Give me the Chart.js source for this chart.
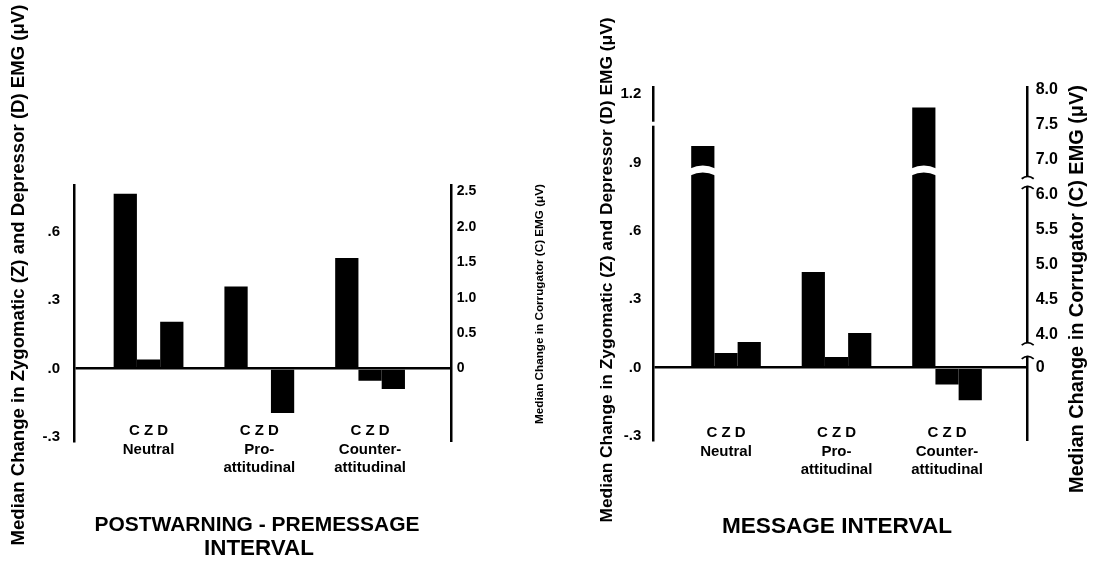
<!DOCTYPE html>
<html>
<head>
<meta charset="utf-8">
<script src="https://cdn.jsdelivr.net/npm/chart.js@4.4.0/dist/chart.umd.min.js"></script>
<style>
  html, body { margin: 0; padding: 0; background: #fff; }
  #wrap { position: relative; width: 1096px; height: 563px; overflow: hidden; }
  canvas { position: absolute; top: 0; }
</style>
</head>
<body>
<div id="wrap">
  <canvas id="pre" width="555" height="563" style="left:0"></canvas>
  <canvas id="msg" width="541" height="563" style="left:555px"></canvas>
</div>
<script>
const FONT = "'Liberation Sans', Arial, sans-serif";

// labels under each group of bars
const barLetters = 'C Z D';
const groupNames = [['Neutral'], ['Pro-', 'attitudinal'], ['Counter-', 'attitudinal']];

// postwarning - premessage interval (C on right axis, Z and D on left axis)
const preC = [2.47, 1.16, 1.56];
const preZ = [0.04, 0.0, -0.054];
const preD = [0.205, -0.195, -0.09];

// message interval
const msgC = [7.2, 4.9, 7.75];
const msgZ = [0.065, 0.047, -0.074];
const msgD = [0.113, 0.152, -0.143];

// tick values
const preZDTicks = [-0.3, 0, 0.3, 0.6];
const preCTicks = [0, 0.5, 1.0, 1.5, 2.0, 2.5];
const msgZDTicks = [-0.3, 0, 0.3, 0.6, 0.9, 1.2];
const msgCTicks = [0, 4.0, 4.5, 5.0, 5.5, 6.0, 7.0, 7.5, 8.0];

// broken corrugator axis of the message panel: [real value, stretched value]
const msgCBreaks = [[0, 0], [4.0, 0.467], [6.0, 2.467], [7.0, 2.967], [8.0, 3.967]];

// linear scale with the two axis breaks squeezed out
class BrokenScale extends Chart.LinearScale {
  stretch(v) {
    const b = msgCBreaks;
    if (v <= b[0][0]) return v;
    for (let i = 1; i < b.length; i++) {
      if (v <= b[i][0]) {
        const [r0, s0] = b[i - 1], [r1, s1] = b[i];
        return s0 + (v - r0) * (s1 - s0) / (r1 - r0);
      }
    }
    const [rl, sl] = b[b.length - 1];
    return sl + (v - rl);
  }
  getPixelForValue(value) {
    if (value === null || value === undefined || isNaN(value)) return NaN;
    return super.getPixelForValue(this.stretch(value));
  }
}
BrokenScale.id = 'broken';
BrokenScale.defaults = Chart.LinearScale.defaults;
Chart.register(BrokenScale);

function zdLabel(v) {
  if (v === 0) return '.0';
  if (Math.abs(v) >= 1) return v.toFixed(1);
  return (v < 0 ? '-' : '') + '.' + Math.round(Math.abs(v) * 10);
}

function cLabel(v) {
  return v === 0 ? '0' : v.toFixed(1);
}

// free text: axis titles and panel captions, sized to a given length
function textPlugin(items) {
  return {
    id: 'figText',
    afterDraw(chart) {
      const ctx = chart.ctx;
      ctx.save();
      ctx.fillStyle = '#000';
      ctx.textAlign = 'center';
      ctx.textBaseline = 'middle';
      items.forEach(t => {
        ctx.font = 'bold 100px ' + FONT;
        const size = 100 * t.len / ctx.measureText(t.text).width;
        ctx.font = 'bold ' + size.toFixed(2) + 'px ' + FONT;
        ctx.save();
        ctx.translate(t.x, t.y);
        if (t.vertical) ctx.rotate(-Math.PI / 2);
        ctx.fillText(t.text, 0, 0);
        ctx.restore();
      });
      ctx.restore();
    }
  };
}

// break marks on the message panel axes and tall C bars
const breakPlugin = {
  id: 'breaks',
  afterDraw(chart) {
    const ctx = chart.ctx;
    const yC = chart.scales.yC, yZ = chart.scales.yZD;
    const left = chart.chartArea.left, right = chart.chartArea.right;
    ctx.save();

    // small gap in the left axis
    const g = yZ.getPixelForValue(1.07);
    ctx.fillStyle = '#fff';
    ctx.fillRect(left - 3, g - 2, 6, 4);

    const p0 = yC.getPixelForValue(0), p4 = yC.getPixelForValue(4);
    const p6 = yC.getPixelForValue(6), p7 = yC.getPixelForValue(7);

    // gaps in the tall corrugator bars
    chart.getDatasetMeta(0).data.forEach((bar, i) => {
      if (msgC[i] <= 7) return;
      const l = bar.x - bar.width / 2 - 1, r = bar.x + bar.width / 2 + 1;
      const top = p7 + 0.16 * (p6 - p7), bot = p7 + 0.36 * (p6 - p7);
      ctx.fillStyle = '#fff';
      ctx.beginPath();
      ctx.moveTo(l, top + 3);
      ctx.quadraticCurveTo(bar.x, top - 3, r, top + 3);
      ctx.lineTo(r, bot + 3);
      ctx.quadraticCurveTo(bar.x, bot - 3, l, bot + 3);
      ctx.closePath();
      ctx.fill();
    });

    // breaks in the right axis
    const gaps = [
      [p7 + 0.48 * (p6 - p7), p7 + 0.74 * (p6 - p7)],
      [p4 + 0.25 * (p0 - p4), p4 + 0.64 * (p0 - p4)]
    ];
    gaps.forEach(([a, b]) => {
      ctx.fillStyle = '#fff';
      ctx.fillRect(right - 3, a, 6, b - a);
      ctx.strokeStyle = '#000';
      ctx.lineWidth = 1.8;
      ctx.beginPath();
      ctx.moveTo(right - 6, a + 2);
      ctx.quadraticCurveTo(right, a - 3, right + 6, a + 2);
      ctx.stroke();
      ctx.beginPath();
      ctx.moveTo(right - 6, b + 3);
      ctx.quadraticCurveTo(right, b - 2, right + 6, b + 3);
      ctx.stroke();
    });
    ctx.restore();
  }
};

function toPoints(values) {
  return values.map((v, i) => ({ x: i, y: v }));
}

function buildPanel(id, p) {
  const barStyle = {
    backgroundColor: '#000',
    borderWidth: 0,
    barPercentage: 1,
    categoryPercentage: 0.63
  };
  return new Chart(document.getElementById(id), {
    type: 'bar',
    data: {
      datasets: [
        Object.assign({ label: 'C', data: toPoints(p.C), yAxisID: 'yC' }, barStyle),
        Object.assign({ label: 'Z', data: toPoints(p.Z), yAxisID: 'yZD' }, barStyle),
        Object.assign({ label: 'D', data: toPoints(p.D), yAxisID: 'yZD' }, barStyle)
      ]
    },
    options: {
      responsive: false,
      animation: false,
      events: [],
      layout: { padding: { top: p.top, bottom: 563 - p.bottom - 20, left: 0, right: 0 } },
      plugins: {
        legend: { display: false },
        tooltip: { enabled: false },
        title: { display: false }
      },
      scales: {
        x: {
          type: 'linear',
          offset: false,
          min: p.xMin,
          max: p.xMax,
          grid: { display: false, drawTicks: false },
          border: { display: false },
          afterBuildTicks: s => { s.ticks = [0, 1, 2].map(v => ({ value: v })); },
          afterFit: s => { s.height = 20; },
          ticks: {
            autoSkip: false,
            maxRotation: 0,
            // mirrored so the first line may sit above the axis bottom without clipping
            mirror: true,
            padding: p.labelPad,
            color: '#000',
            font: { family: FONT, size: 15, weight: 'bold', lineHeight: 1.25 },
            callback: v => [barLetters].concat(groupNames[v])
          }
        },
        yZD: {
          type: 'linear',
          position: 'left',
          min: p.zdMin,
          max: p.zdMax,
          afterBuildTicks: s => { s.ticks = p.zdTicks.map(v => ({ value: v })); },
          afterFit: s => { s.width = p.leftW; },
          grid: {
            drawTicks: false,
            lineWidth: 2.5,
            color: c => (c.tick && c.tick.value === 0 ? '#000' : 'rgba(0,0,0,0)')
          },
          border: { display: true, color: '#000', width: 2.5 },
          ticks: {
            autoSkip: false,
            padding: p.leftPad,
            color: '#000',
            font: { family: FONT, size: 15, weight: 'bold' },
            callback: zdLabel
          }
        },
        yC: {
          type: p.cType,
          position: 'right',
          min: p.cMin,
          max: p.cMax,
          afterBuildTicks: s => { s.ticks = p.cTicks.map(v => ({ value: v })); },
          afterFit: s => { s.width = p.rightW; },
          grid: { display: false, drawTicks: false },
          border: { display: true, color: '#000', width: 2.5 },
          ticks: {
            autoSkip: false,
            padding: p.rightPad,
            color: '#000',
            font: { family: FONT, size: p.cFont, weight: 'bold' },
            callback: cLabel
          }
        }
      }
    },
    plugins: p.plugins
  });
}

buildPanel('pre', {
  C: preC, Z: preZ, D: preD,
  top: 185, bottom: 441,
  xMin: -0.673, xMax: 2.737, labelPad: 1,
  zdMin: -0.318, zdMax: 0.805, zdTicks: preZDTicks,
  cType: 'linear', cMin: -1.024, cMax: 2.592, cTicks: preCTicks, cFont: 14,
  leftW: 74, rightW: 103.3, leftPad: 14, rightPad: 5,
  plugins: [textPlugin([
    { text: 'Median Change in Zygomatic (Z) and Depressor (D) EMG (μV)', x: 19, y: 275, len: 541, vertical: true },
    { text: 'Median Change in Corrugator (C) EMG (μV)', x: 540, y: 304, len: 240, vertical: true },
    { text: 'POSTWARNING - PREMESSAGE', x: 257, y: 525, len: 325 },
    { text: 'INTERVAL', x: 259, y: 549, len: 110 }
  ])]
});

buildPanel('msg', {
  C: msgC, Z: msgZ, D: msgD,
  top: 87, bottom: 440,
  xMin: -0.658, xMax: 2.73, labelPad: -2,
  zdMin: -0.317, zdMax: 1.231, zdTicks: msgZDTicks,
  cType: 'broken', cMin: -1.033, cMax: 4.01, cTicks: msgCTicks, cFont: 16,
  leftW: 98.3, rightW: 68.3, leftPad: 12, rightPad: 8,
  plugins: [breakPlugin, textPlugin([
    { text: 'Median Change in Zygomatic (Z) and Depressor (D) EMG (μV)', x: 52, y: 270, len: 505, vertical: true },
    { text: 'Median Change in Corrugator (C) EMG (μV)', x: 523, y: 289, len: 408, vertical: true },
    { text: 'MESSAGE INTERVAL', x: 282, y: 527, len: 230 }
  ])]
});
</script>
</body>
</html>
